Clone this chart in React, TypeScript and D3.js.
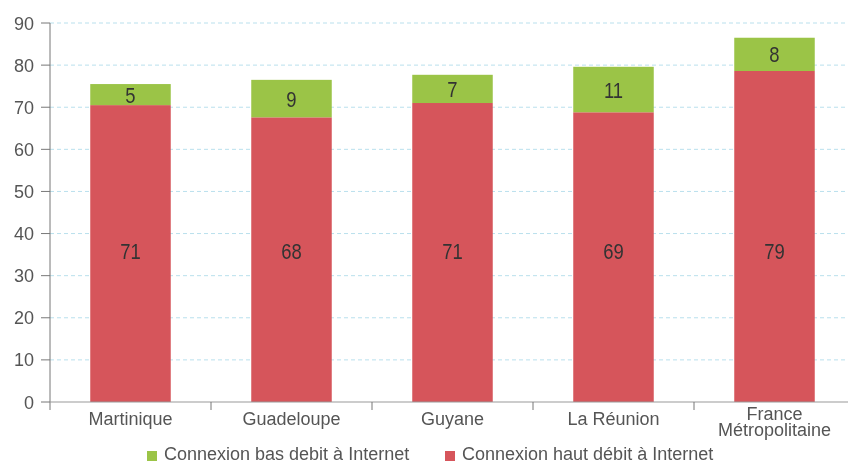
import React from "react";
import * as d3 from "d3";

const regions = ["Martinique", "Guadeloupe", "Guyane", "La Réunion", "France\nMétropolitaine"];
const hautDebit = [70.5, 67.6, 71, 68.8, 78.6];
const basDebit = [5, 8.9, 6.7, 10.8, 7.9];
const seriesNames = ["Connexion bas debit à Internet", "Connexion haut débit à Internet"];
const yTicks = [0, 10, 20, 30, 40, 50, 60, 70, 80, 90];

const W = 848;
const H = 461;
const green = "#9bc447";
const red = "#d6555b";
const font = "'Liberation Sans', Arial, sans-serif";

function drawChart(svgRef: React.RefObject<SVGSVGElement | null>) {
  const svg = d3.select(svgRef.current);
  svg.selectAll("*").remove();
  svg.attr("width", W).attr("height", H);

  const left = 50;
  const x = d3.scaleBand().domain(regions).range([left, left + 5 * 161]).paddingInner(0.5).paddingOuter(0.25);
  const y = d3.scaleLinear().domain([0, 90]).range([402, 23]);

  // grid
  svg.append("g")
    .selectAll("line")
    .data(yTicks.filter(d => d > 0))
    .join("line")
    .attr("x1", left).attr("x2", W)
    .attr("y1", d => y(d)).attr("y2", d => y(d))
    .attr("stroke", "#b9e0ed")
    .attr("stroke-width", 1)
    .attr("stroke-dasharray", "4,3");

  const rows = regions.map((r, i) => ({ r, haut: hautDebit[i], bas: basDebit[i] }));
  const bars = svg.append("g");
  bars.selectAll("rect.haut")
    .data(rows)
    .join("rect")
    .attr("class", "haut")
    .attr("x", d => x(d.r)!)
    .attr("width", x.bandwidth())
    .attr("y", d => y(d.haut))
    .attr("height", d => y(0) - y(d.haut))
    .attr("fill", red);
  bars.selectAll("rect.bas")
    .data(rows)
    .join("rect")
    .attr("class", "bas")
    .attr("x", d => x(d.r)!)
    .attr("width", x.bandwidth())
    .attr("y", d => y(d.haut + d.bas))
    .attr("height", d => y(d.haut) - y(d.haut + d.bas))
    .attr("fill", green);

  const fmt = d3.format(".0f");
  const cx = (d: { r: string }) => x(d.r)! + x.bandwidth() / 2;
  // red labels sit on one common line; digits are condensed like in the original
  const midHaut = d3.mean(hautDebit)! / 2;
  bars.selectAll("text.lh")
    .data(rows)
    .join("text")
    .attr("class", "lh")
    .attr("transform", d => `translate(${cx(d)},${y(midHaut) + 7}) scale(0.84,1)`)
    .attr("text-anchor", "middle")
    .attr("font-size", 22)
    .attr("font-family", font)
    .attr("fill", "#333")
    .text(d => fmt(d.haut));
  bars.selectAll("text.lb")
    .data(rows)
    .join("text")
    .attr("class", "lb")
    .attr("transform", d => `translate(${cx(d)},${y(d.haut + d.bas / 2) + 8}) scale(0.84,1)`)
    .attr("text-anchor", "middle")
    .attr("font-size", 22)
    .attr("font-family", font)
    .attr("fill", "#333")
    .text(d => fmt(d.bas));

  // y axis
  const ya = svg.append("g");
  ya.append("line").attr("x1", left).attr("x2", left).attr("y1", y(90)).attr("y2", y(0) + 8).attr("stroke", "#777");
  ya.selectAll("line.t")
    .data(yTicks)
    .join("line")
    .attr("class", "t")
    .attr("x1", 41).attr("x2", left)
    .attr("y1", d => y(d)).attr("y2", d => y(d))
    .attr("stroke", "#777");
  ya.selectAll("text")
    .data(yTicks)
    .join("text")
    .attr("x", 34)
    .attr("y", d => y(d) + 6.5)
    .attr("text-anchor", "end")
    .attr("font-size", 18)
    .attr("font-family", font)
    .attr("fill", "#555")
    .text(d => d);

  // x axis
  const xa = svg.append("g");
  xa.append("line").attr("x1", left).attr("x2", W).attr("y1", y(0)).attr("y2", y(0)).attr("stroke", "#999");
  xa.selectAll("line.t")
    .data(d3.range(1, 5))
    .join("line")
    .attr("class", "t")
    .attr("x1", i => left + i * 161).attr("x2", i => left + i * 161)
    .attr("y1", y(0)).attr("y2", y(0) + 8)
    .attr("stroke", "#777");
  xa.selectAll("text")
    .data(regions)
    .join("text")
    .attr("x", d => x(d)! + x.bandwidth() / 2)
    .attr("y", d => (d.includes("\n") ? 420 : 425))
    .attr("text-anchor", "middle")
    .attr("font-size", 18)
    .attr("font-family", font)
    .attr("fill", "#555")
    .each(function (d) {
      const t = d3.select(this);
      d.split("\n").forEach((part, k) => {
        t.append("tspan").attr("x", x(d)! + x.bandwidth() / 2).attr("dy", k === 0 ? 0 : 16).text(part);
      });
    });

  // legend
  const legend = svg.append("g");
  const items = [
    { name: seriesNames[0], color: green, x: 147 },
    { name: seriesNames[1], color: red, x: 445 },
  ];
  const li = legend.selectAll("g").data(items).join("g");
  li.append("rect").attr("x", d => d.x).attr("y", 451).attr("width", 10).attr("height", 10).attr("fill", d => d.color);
  li.append("text")
    .attr("x", d => d.x + 17)
    .attr("y", 460)
    .attr("font-size", 18)
    .attr("font-family", font)
    .attr("fill", "#555")
    .text(d => d.name);
}

export default function App() {
  const svg = React.useRef<SVGSVGElement>(null);
  React.useEffect(() => {
    drawChart(svg);
  }, []);
  return (
    <div style={{ position: "fixed", left: 0, top: 0 }}>
      <svg ref={svg} style={{ display: "block" }} />
    </div>
  );
}
